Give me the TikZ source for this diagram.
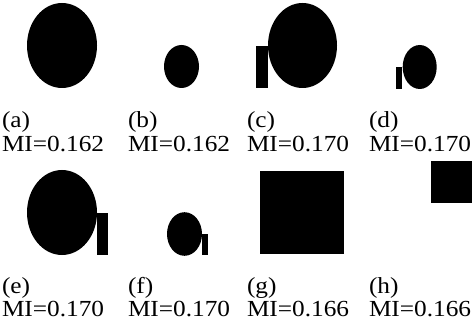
\documentclass[tikz,border=0pt]{standalone}
\usepackage{fontspec}
\usepackage{graphicx}
\setmainfont{Liberation Serif}
\newcommand{\wide}[1]{\scalebox{1.1}[1]{#1}}
\begin{document}
\begin{tikzpicture}[x=1pt,y=-1pt,
  blob/.style={fill=black,draw=none},
  lbl/.style={anchor=base west,inner sep=0pt,outer sep=0pt,font=\fontsize{23}{27}\selectfont}]
\useasboundingbox (0,0) rectangle (472,329);
% row 1
\fill[blob] (62,45.5) ellipse [x radius=35,y radius=42.5];
\fill[blob] (181.5,66.5) ellipse [x radius=17.5,y radius=21.5];
\fill[blob] (302.5,45.5) ellipse [x radius=34.5,y radius=42.5];
\fill[blob] (256,46) rectangle (268,88);
\fill[blob] (419.7,67) ellipse [x radius=17,y radius=22];
\fill[blob] (395.7,66.7) rectangle (401.7,89);
% row 2
\fill[blob] (62,212.5) ellipse [x radius=35,y radius=42.5];
\fill[blob] (97,212.7) rectangle (108,255);
\fill[blob] (184.5,234) ellipse [x radius=17.5,y radius=21.8];
\fill[blob] (202,234) rectangle (208,255);
\fill[blob] (260,170.7) rectangle (344,254);
\fill[blob] (431,160.7) rectangle (473,202.7);
% labels
\node[lbl] (la) at (2,128) {\wide{(a)}};
\node[lbl] (ma) at (2,151.7) {\wide{MI=0.162}};
\node[lbl] (lb) at (128,128) {\wide{(b)}};
\node[lbl] (mb) at (128,151.7) {\wide{MI=0.162}};
\node[lbl] (lc) at (247,128) {\wide{(c)}};
\node[lbl] (mc) at (247,151.7) {\wide{MI=0.170}};
\node[lbl] (ld) at (369,128) {\wide{(d)}};
\node[lbl] (md) at (369,151.7) {\wide{MI=0.170}};
\node[lbl] (le) at (2,293) {\wide{(e)}};
\node[lbl] (me) at (2,316.7) {\wide{MI=0.170}};
\node[lbl] (lf) at (128,293) {\wide{(f)}};
\node[lbl] (mf) at (128,316.7) {\wide{MI=0.170}};
\node[lbl] (lg) at (247,293) {\wide{(g)}};
\node[lbl] (mg) at (247,316.7) {\wide{MI=0.166}};
\node[lbl] (lh) at (369,293) {\wide{(h)}};
\node[lbl] (mh) at (369,316.7) {\wide{MI=0.166}};
\end{tikzpicture}
\end{document}
